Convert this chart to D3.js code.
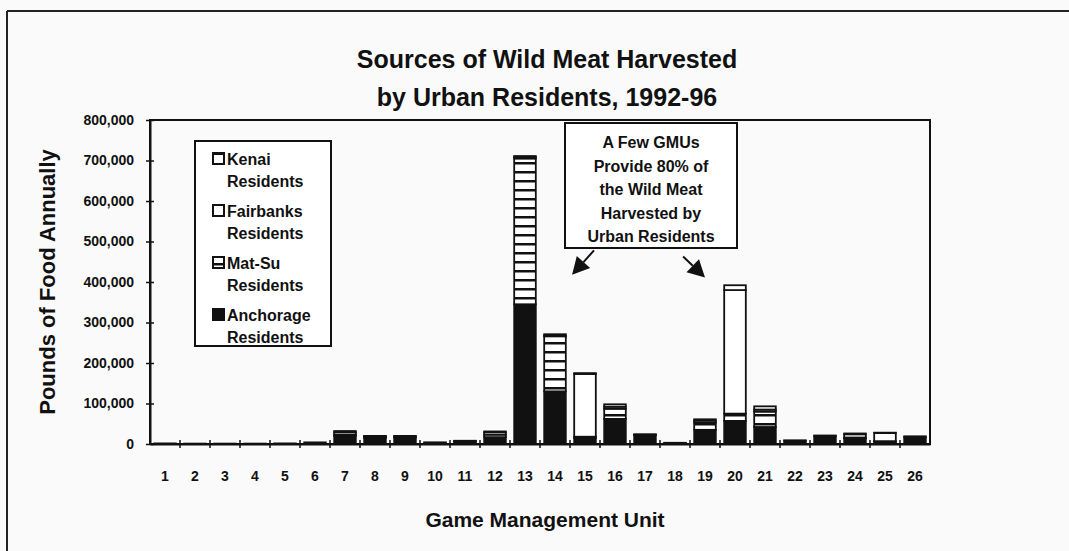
<!DOCTYPE html>
<html>
<head>
<meta charset="utf-8">
<script src="https://cdn.jsdelivr.net/npm/d3@7"></script>
<style>
body { margin: 0; background: #fafafa; }
text { font-family: "Liberation Sans", Arial, Helvetica, sans-serif; font-weight: bold; fill: #111; }
</style>
</head>
<body>
<div id="chart"></div>
<script>
// game management units 1..26
var gmus = ["1","2","3","4","5","6","7","8","9","10","11","12","13",
            "14","15","16","17","18","19","20","21","22","23","24","25","26"];
// pounds per year
var anchorage = [1500,1000,1000,1000,1500,4000,20000,15000,16000,3000,6000,17000,345000,
                 130000,15000,62000,22000,2000,35000,57000,42000,8000,19000,14000,5000,17000];
var matsu     = [0,0,0,0,0,0,3000,3000,3000,0,1000,6000,360000,
                 136000,3000,25000,1000,0,18000,18000,38000,1000,2000,2000,2000,2000];
var fairbanks = [0,0,0,0,0,0,6000,1000,1000,1000,1000,6000,3000,
                 2000,155000,5000,1000,1000,5000,305000,5000,0,0,8000,20000,0];
var kenai     = [0,0,0,0,0,0,3000,1000,0,0,0,2000,3000,
                 3000,2000,6000,0,0,3000,12000,8000,0,0,2000,1000,0];
var seriesKeys = ["anchorage","matsu","fairbanks","kenai"];
var legendLabels = ["Kenai","Fairbanks","Mat-Su","Anchorage"];
var yTicks = [0,100000,200000,300000,400000,500000,600000,700000,800000];
var noteLines = ["A Few GMUs","Provide 80% of","the Wild Meat","Harvested by","Urban Residents"];

var W = 1069, H = 551;
var m = { top: 120, right: 139, bottom: 107, left: 150 };

var rows = gmus.map(function (g, i) {
    return { gmu: g, anchorage: anchorage[i], matsu: matsu[i], fairbanks: fairbanks[i], kenai: kenai[i] };
});
var stacked = d3.stack().keys(seriesKeys)(rows);

var svg = d3.select("#chart").append("svg")
    .attr("width", W).attr("height", H);

var defs = svg.append("defs");
var stripes = defs.append("pattern")
    .attr("id", "stripes")
    .attr("patternUnits", "userSpaceOnUse")
    .attr("width", 8).attr("height", 9);
stripes.append("rect").attr("width", 8).attr("height", 9).attr("fill", "#fff");
stripes.append("rect").attr("y", 0).attr("width", 8).attr("height", 2.5).attr("fill", "#111");

var fills = { anchorage: "#111", matsu: "url(#stripes)", fairbanks: "#fff", kenai: "#fff" };

var x = d3.scaleBand().domain(gmus).range([m.left, W - m.right]).paddingInner(0.28).paddingOuter(0.14);
var y = d3.scaleLinear().domain([0, 800000]).range([H - m.bottom, m.top]);
var xl = d3.scaleLinear().domain([0.5, 26.5]).range([m.left, W - m.right]);

// outer scan frame (top and left edges)
svg.append("line").attr("x1", 7).attr("x2", W).attr("y1", 11).attr("y2", 11)
    .attr("stroke", "#222").attr("stroke-width", 2);
svg.append("line").attr("x1", 7).attr("x2", 7).attr("y1", 11).attr("y2", H)
    .attr("stroke", "#222").attr("stroke-width", 2);

// plot frame
svg.append("rect")
    .attr("x", m.left).attr("y", m.top)
    .attr("width", W - m.right - m.left).attr("height", H - m.bottom - m.top)
    .attr("fill", "none").attr("stroke", "#111").attr("stroke-width", 2);

// bars
svg.selectAll(".layer")
    .data(stacked)
    .enter().append("g")
    .attr("class", "layer")
    .attr("fill", function (d) { return fills[d.key]; })
    .selectAll("rect")
    .data(function (d) { return d; })
    .enter().append("rect")
    .attr("x", function (d) { return x(d.data.gmu); })
    .attr("width", x.bandwidth())
    .attr("y", function (d) { return y(d[1]); })
    .attr("height", function (d) { return y(d[0]) - y(d[1]); })
    .attr("stroke", "#111")
    .attr("stroke-width", function (d) { return d[1] > d[0] ? 1.8 : 0; });

// y axis
var yAxis = svg.append("g")
    .attr("transform", "translate(" + m.left + ",0)")
    .call(d3.axisLeft(y).tickValues(yTicks).tickFormat(d3.format(",")).tickSizeInner(4).tickSizeOuter(0).tickPadding(12));
yAxis.select(".domain").attr("stroke", "#111").attr("stroke-width", 2);
yAxis.selectAll(".tick line").attr("x1", 4).attr("x2", -4).attr("stroke", "#111").attr("stroke-width", 1.5);
yAxis.selectAll("text").style("font-size", "14px");

// x axis
var xAxis = svg.append("g")
    .attr("transform", "translate(0," + y(0) + ")")
    .call(d3.axisBottom(x).tickSize(0).tickPadding(27));
xAxis.select(".domain").attr("stroke", "#111").attr("stroke-width", 2);
xAxis.selectAll("text").style("font-size", "14px");
xAxis.selectAll(".sep")
    .data(gmus.slice(1))
    .enter().append("line")
    .attr("x1", function (g) { return x(g) - x.step() * x.paddingInner() / 2; })
    .attr("x2", function (g) { return x(g) - x.step() * x.paddingInner() / 2; })
    .attr("y1", -4).attr("y2", 4)
    .attr("stroke", "#111").attr("stroke-width", 1.5);

// titles
svg.append("text").attr("x", 547).attr("y", 68).attr("text-anchor", "middle")
    .style("font-size", "25px").text("Sources of Wild Meat Harvested");
svg.append("text").attr("x", 547).attr("y", 106).attr("text-anchor", "middle")
    .style("font-size", "25px").text("by Urban Residents, 1992-96");
svg.append("text").attr("x", 545).attr("y", 527).attr("text-anchor", "middle")
    .style("font-size", "21px").text("Game Management Unit");
svg.append("text")
    .attr("transform", "translate(55," + ((m.top + H - m.bottom) / 2) + ") rotate(-90)")
    .attr("text-anchor", "middle")
    .style("font-size", "22px").text("Pounds of Food Annually");

// legend
var lg = svg.append("g").attr("transform", "translate(195,141)");
lg.append("rect").attr("width", 136).attr("height", 205)
    .attr("fill", "#fff").attr("stroke", "#111").attr("stroke-width", 2);
var legendKeys = ["kenai", "fairbanks", "matsu", "anchorage"];
var item = lg.selectAll(".item")
    .data(legendKeys)
    .enter().append("g")
    .attr("class", "item")
    .attr("transform", function (d, i) { return "translate(0," + (i * 52) + ")"; });
item.append("rect")
    .attr("x", 18).attr("y", 12).attr("width", 11).attr("height", 11)
    .attr("fill", function (d) { return fills[d]; })
    .attr("stroke", "#111").attr("stroke-width", 2);
item.filter(function (d) { return d === "kenai"; }).append("rect")
    .attr("x", 18).attr("y", 11).attr("width", 11).attr("height", 3).attr("fill", "#111");
item.append("text").attr("x", 32).attr("y", 24).style("font-size", "16px")
    .text(function (d, i) { return legendLabels[i]; });
item.append("text").attr("x", 32).attr("y", 46).style("font-size", "16px").text("Residents");

// annotation
var note = svg.append("g");
note.append("rect").attr("x", 565).attr("y", 123).attr("width", 172).attr("height", 125)
    .attr("fill", "#fff").attr("stroke", "#111").attr("stroke-width", 2);
note.selectAll(".nl")
    .data(noteLines)
    .enter().append("text")
    .attr("x", 651)
    .attr("y", function (d, i) { return 148 + i * 23.5; })
    .attr("text-anchor", "middle")
    .style("font-size", "16px")
    .text(function (d) { return d; });

function arrow(x0, v0, x1, v1) {
    var ax = xl(x0), ay = y(v0), bx = xl(x1), by = y(v1);
    var ang = Math.atan2(by - ay, bx - ax), len = 17, half = 9;
    var baseX = bx - len * Math.cos(ang), baseY = by - len * Math.sin(ang);
    svg.append("line").attr("x1", ax).attr("y1", ay).attr("x2", baseX).attr("y2", baseY)
        .attr("stroke", "#111").attr("stroke-width", 2);
    svg.append("path")
        .attr("d", "M" + bx + "," + by +
            "L" + (baseX + half * Math.sin(ang)) + "," + (baseY - half * Math.cos(ang)) +
            "L" + (baseX - half * Math.sin(ang)) + "," + (baseY + half * Math.cos(ang)) + "Z")
        .attr("fill", "#111");
}
arrow(15.3, 478000, 14.57, 418000);
arrow(18.27, 463000, 19.0, 411000);
</script>
</body>
</html>
